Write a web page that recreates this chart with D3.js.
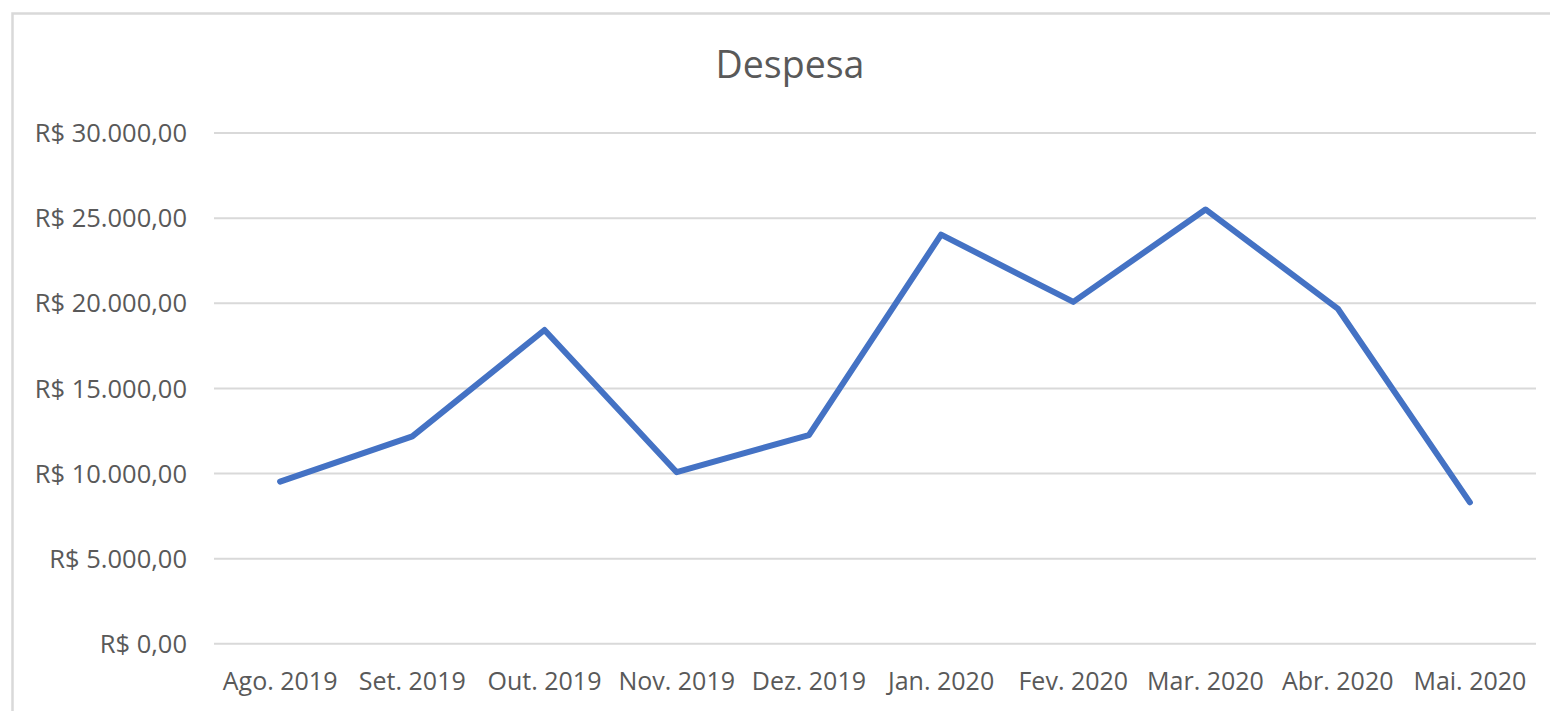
<!DOCTYPE html>
<html>
<head>
<meta charset="utf-8">
<script src="https://cdn.jsdelivr.net/npm/d3@7"></script>
<style>
  body { margin: 0; background: #fff; overflow: hidden; }
  text { font-family: "Open Sans", sans-serif; fill: #595959; }
</style>
</head>
<body>
<script>
// data
var months = ["Ago. 2019", "Set. 2019", "Out. 2019", "Nov. 2019", "Dez. 2019",
              "Jan. 2020", "Fev. 2020", "Mar. 2020", "Abr. 2020", "Mai. 2020"];
var despesa = [9500, 12150, 18400, 10050, 12230, 24000, 20050, 25480, 19660, 8280];
var yTicks = [0, 5000, 10000, 15000, 20000, 25000, 30000];
var title = "Despesa";

var width = 1550, height = 711;
var plot = {left: 214, right: 1536, top: 132.5, bottom: 643.3};

var svg = d3.select("body").append("svg")
	.attr("width", width)
	.attr("height", height);

// outer frame (right and bottom edges fall outside the picture)
svg.append("rect")
	.attr("x", 12.5)
	.attr("y", 13.5)
	.attr("width", 1600)
	.attr("height", 760)
	.attr("fill", "none")
	.style("stroke", "#d9d9d9")
	.style("stroke-width", 2.5);

var x = d3.scaleBand()
	.domain(months)
	.range([plot.left, plot.right]);

var y = d3.scaleLinear()
	.domain([0, 30000])
	.range([plot.bottom, plot.top]);

var fmt = function(v) {
	// R$ 30.000,00 style
	var s = d3.format(",.2f")(v);
	return "R$ " + s.replace(/,/g, "#").replace(".", ",").replace(/#/g, ".");
};

// gridlines + y labels
var yAxis = d3.axisLeft(y)
	.tickValues(yTicks)
	.tickSize(-(plot.right - plot.left))
	.tickPadding(27)
	.tickFormat(fmt);

var gy = svg.append("g")
	.attr("transform", "translate(" + plot.left + ",0)")
	.call(yAxis);
gy.select(".domain").remove();
gy.selectAll(".tick line")
	.style("stroke", "#d9d9d9")
	.style("stroke-width", 2);
gy.selectAll(".tick text")
	.style("font-size", "25.5px")
	.attr("dy", "0.36em");

// x labels
var xAxis = d3.axisBottom(x)
	.tickSize(0)
	.tickPadding(29);
var gx = svg.append("g")
	.attr("transform", "translate(0," + plot.bottom + ")")
	.call(xAxis);
gx.select(".domain").remove();
gx.selectAll(".tick text")
	.style("font-size", "25px");

// line
var line = d3.line()
	.x(function(d, i) { return x(months[i]) + x.bandwidth() / 2; })
	.y(function(d) { return y(d); });

svg.append("path")
	.datum(despesa)
	.attr("d", line)
	.attr("fill", "none")
	.style("stroke", "#4472c4")
	.style("stroke-width", 6)
	.style("stroke-linejoin", "round")
	.style("stroke-linecap", "round");

// title
svg.append("text")
	.attr("x", 790)
	.attr("y", 78)
	.style("text-anchor", "middle")
	.style("font-size", "37.5px")
	.text(title);
</script>
</body>
</html>
